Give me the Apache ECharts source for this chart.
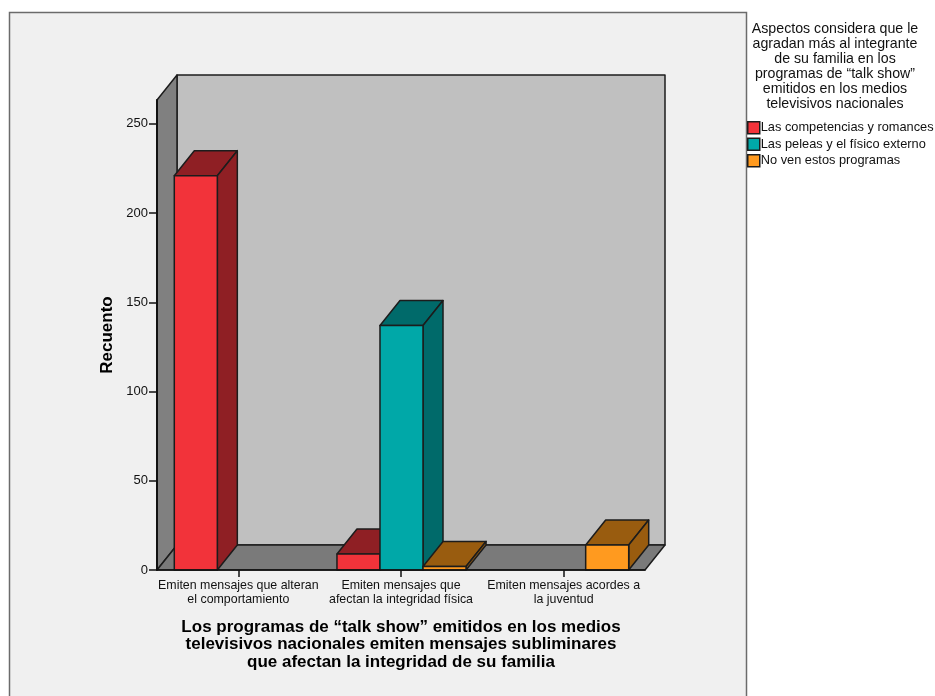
<!DOCTYPE html>
<html><head><meta charset="utf-8">
<script src="https://cdn.jsdelivr.net/npm/echarts@6/dist/echarts.min.js"></script>
<style>html,body{margin:0;padding:0;background:#fff}#c{width:935px;height:696px}</style>
</head><body><div id="c"></div>
<script>
const categories = ["Emiten mensajes que alteran\nel comportamiento","Emiten mensajes que\nafectan la integridad física","Emiten mensajes acordes a\nla juventud"];
const seriesNames = ["Las competencias y romances","Las peleas y el físico externo","No ven estos programas"];
const competencias = [221, 9, null];
const peleas = [null, 137, null];
const noVen = [null, 2, 14];
const yTicks = [0,50,100,150,200,250];
const yTop = 263.4;
const frontColors = ["#f2333a","#00a8a8","#ff9a1f"];
const darkColors = ["#8f1f24","#006a6a","#995c0f"];
const xTitle = "Los programas de “talk show” emitidos en los medios\ntelevisivos nacionales emiten mensajes subliminares\nque afectan la integridad de su familia";
const legendTitle = "Aspectos considera que le\nagradan más al integrante\nde su familia en los\nprogramas de “talk show”\nemitidos en los medios\ntelevisivos nacionales";
const yTitle = "Recuento";

const DX = 20, DY = -25, EDGE = '#1c1c1c', FONT = '"Liberation Sans", Arial, sans-serif';
const chart = echarts.init(document.getElementById('c'), null, {renderer:'canvas'});

function poly(points, fill, w){
  return {type:'polygon', shape:{points}, style:{fill, stroke:EDGE, lineWidth:w||1.5, lineJoin:'round'}};
}
function wallsItem(params, api){
  const cs = params.coordSys;
  const x0 = cs.x, x1 = cs.x+cs.width, y0 = cs.y, y1 = cs.y+cs.height;
  return {type:'group', silent:true, children:[
    poly([[x0+DX,y0+DY],[x1+DX,y0+DY],[x1+DX,y1+DY],[x0+DX,y1+DY]], '#c0c0c0'),
    poly([[x0,y0],[x0+DX,y0+DY],[x0+DX,y1+DY],[x0,y1]], '#808080'),
    poly([[x0,y1],[x0+DX,y1+DY],[x1+DX,y1+DY],[x1,y1]], '#7a7a7a')
  ]};
}
function barItem(si){
  return function(params, api){
    const v = api.value(1);
    if (v == null || isNaN(v)) return null;
    const band = api.size([1,0])[0];
    const w = band*0.2645;
    const base = api.coord([api.value(0),0]);
    const top = api.coord([api.value(0),v]);
    const l = base[0] + (si-1.5)*w + 0.5, r = l+w, t = top[1], b = base[1];
    return {type:'group', children:[
      poly([[l,t],[r,t],[r+DX,t+DY],[l+DX,t+DY]], darkColors[si]),
      poly([[r,t],[r+DX,t+DY],[r+DX,b+DY],[r,b]], darkColors[si]),
      poly([[l,t],[r,t],[r,b],[l,b]], frontColors[si])
    ]};
  };
}
const values = [competencias, peleas, noVen];
chart.setOption({
  animation:false,
  backgroundColor:'#ffffff',
  graphic:[{type:'rect', z:-10, silent:true, shape:{x:9.5,y:12.5,width:737,height:700},
    style:{fill:'#f0f0f0',stroke:'#6b6b6b',lineWidth:1.5}}],
  title:{text:legendTitle, left:835, top:22, textAlign:'center', padding:0,
    textStyle:{fontFamily:FONT,fontSize:14.2,fontWeight:'normal',color:'#111',lineHeight:15}},
  legend:{left:747, top:121, orient:'vertical', itemWidth:12, itemHeight:12, itemGap:3, icon:'rect',
    selectedMode:false, padding:0,
    textStyle:{fontFamily:FONT,fontSize:12.8,color:'#111',lineHeight:12,padding:[0,0,0,-4]},
    data:seriesNames.map((n,i)=>({name:n,icon:'rect',itemStyle:{color:frontColors[i],borderColor:'#1c1c1c',borderWidth:1.5}}))},
  grid:{left:157,top:100,width:488,height:470,containLabel:false},
  xAxis:{type:'category',data:categories,boundaryGap:true,z:6,
    axisLine:{lineStyle:{color:'#111',width:1.5}},
    axisTick:{show:true,alignWithLabel:true,length:7,lineStyle:{color:'#111',width:1.5},customValues:[0,1,2]},
    axisLabel:{interval:0,margin:9,fontFamily:FONT,fontSize:12.4,color:'#111',lineHeight:14},
    name:xTitle,nameLocation:'middle',nameGap:48.5,
    nameTextStyle:{fontFamily:FONT,fontSize:17,fontWeight:'bold',color:'#000',lineHeight:17.5}},
  yAxis:{type:'value',min:0,max:yTop,z:6,
    splitLine:{show:false},
    axisLine:{show:true,lineStyle:{color:'#111',width:2}},
    axisTick:{show:true,length:8,lineStyle:{color:'#111',width:1.5},customValues:yTicks},
    axisLabel:{margin:9,fontFamily:FONT,fontSize:13,color:'#111',customValues:yTicks},
    name:yTitle,nameLocation:'middle',nameGap:36,
    nameTextStyle:{fontFamily:FONT,fontSize:17,fontWeight:'bold',color:'#000'}},
  series:[
    {type:'custom',name:'walls',renderItem:wallsItem,data:[[0,0]],z:1,silent:true,clip:false,encode:{x:0,y:1}},
    ...seriesNames.map((n,i)=>({type:'custom',name:n,renderItem:barItem(i),z:2,clip:false,
      itemStyle:{color:frontColors[i]},encode:{x:0,y:1},
      data:values[i].map((v,c)=>[c,v])}))
  ]
});
</script></body></html>
